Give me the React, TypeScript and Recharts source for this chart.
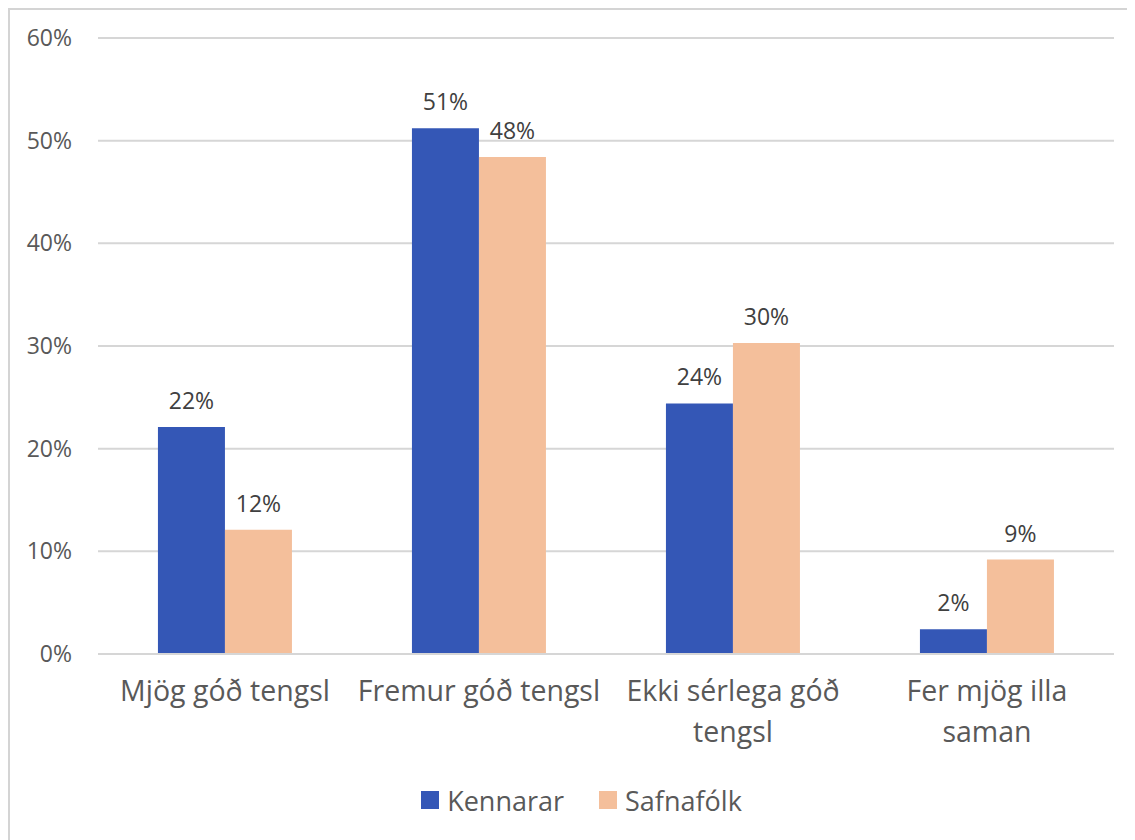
import { Bar, BarChart, CartesianGrid, LabelList, Legend, XAxis, YAxis } from "recharts"

const categories = ["Mjög góð tengsl", "Fremur góð tengsl", "Ekki sérlega góð\ntengsl", "Fer mjög illa\nsaman"]
const kennarar = [22.1, 51.2, 24.4, 2.4]
const safnafolk = [12.1, 48.4, 30.3, 9.2]
const yTicks = [0, 10, 20, 30, 40, 50, 60]

const data = categories.map((name, i) => ({
  name,
  kennarar: kennarar[i],
  safnafolk: safnafolk[i],
}))

const FONT = "'Open Sans', sans-serif"
const TEXT = "#595959"

const pct = (v: any) => `${Math.floor(Number(v))}%`

function CategoryTick(props: any) {
  const { x, y, payload } = props
  const lines = String(payload.value).split("\n")
  return (
    <text x={x} y={y + 39} textAnchor="middle" fill={TEXT} fontSize={28.5} fontFamily={FONT}>
      {lines.map((line, i) => (
        <tspan key={i} x={x} dy={i === 0 ? 0 : 41}>
          {line}
        </tspan>
      ))}
    </text>
  )
}

function LegendContent(props: any) {
  const items = props.payload || []
  return (
    <div style={{ display: "flex", justifyContent: "center", alignItems: "center", height: 36, gap: 35 }}>
      {items.map((item: any) => (
        <div key={item.value} style={{ display: "flex", alignItems: "center", gap: 8 }}>
          <span style={{ width: 18, height: 18, background: item.color, display: "inline-block" }} />
          <span style={{ fontFamily: FONT, fontSize: 27, color: TEXT }}>{item.value}</span>
        </div>
      ))}
    </div>
  )
}

export default function App() {
  return (
    <div
      style={{
        width: 1127,
        height: 832,
        borderTop: "2px solid #d4d4d4",
        borderLeft: "2px solid #d4d4d4",
        boxSizing: "border-box",
        background: "#fff",
      }}
    >
      <style>{`body{overflow:hidden}`}</style>
      <BarChart
        width={1125}
        height={830}
        data={data}
        margin={{ top: 28, right: 21, bottom: 22, left: 0 }}
        barCategoryGap="23.6%"
        barGap={0}
      >
        <CartesianGrid vertical={false} stroke="#d6d6d6" strokeWidth={2} />
        <XAxis
          dataKey="name"
          axisLine={{ stroke: "#d6d6d6", strokeWidth: 2 }}
          tickLine={false}
          interval={0}
          height={128}
          tick={<CategoryTick />}
        />
        <YAxis
          width={88}
          domain={[0, 60]}
          ticks={yTicks}
          tickFormatter={(v: number) => `${v}%`}
          axisLine={false}
          tickLine={false}
          tickMargin={20}
          tick={{ fill: TEXT, fontSize: 23, fontFamily: FONT }}
        />
        <Legend
          verticalAlign="bottom"
          content={<LegendContent />}
          wrapperStyle={{ left: 18, width: 1107 }}
        />
        <Bar dataKey="kennarar" name="Kennarar" fill="#3457b6" isAnimationActive={false}>
          <LabelList dataKey="kennarar" position="top" offset={18} formatter={pct} fill="#404040" fontSize={23} fontFamily={FONT} />
        </Bar>
        <Bar dataKey="safnafolk" name="Safnafólk" fill="#f4bf9b" isAnimationActive={false}>
          <LabelList dataKey="safnafolk" position="top" offset={18} formatter={pct} fill="#404040" fontSize={23} fontFamily={FONT} />
        </Bar>
      </BarChart>
    </div>
  )
}
